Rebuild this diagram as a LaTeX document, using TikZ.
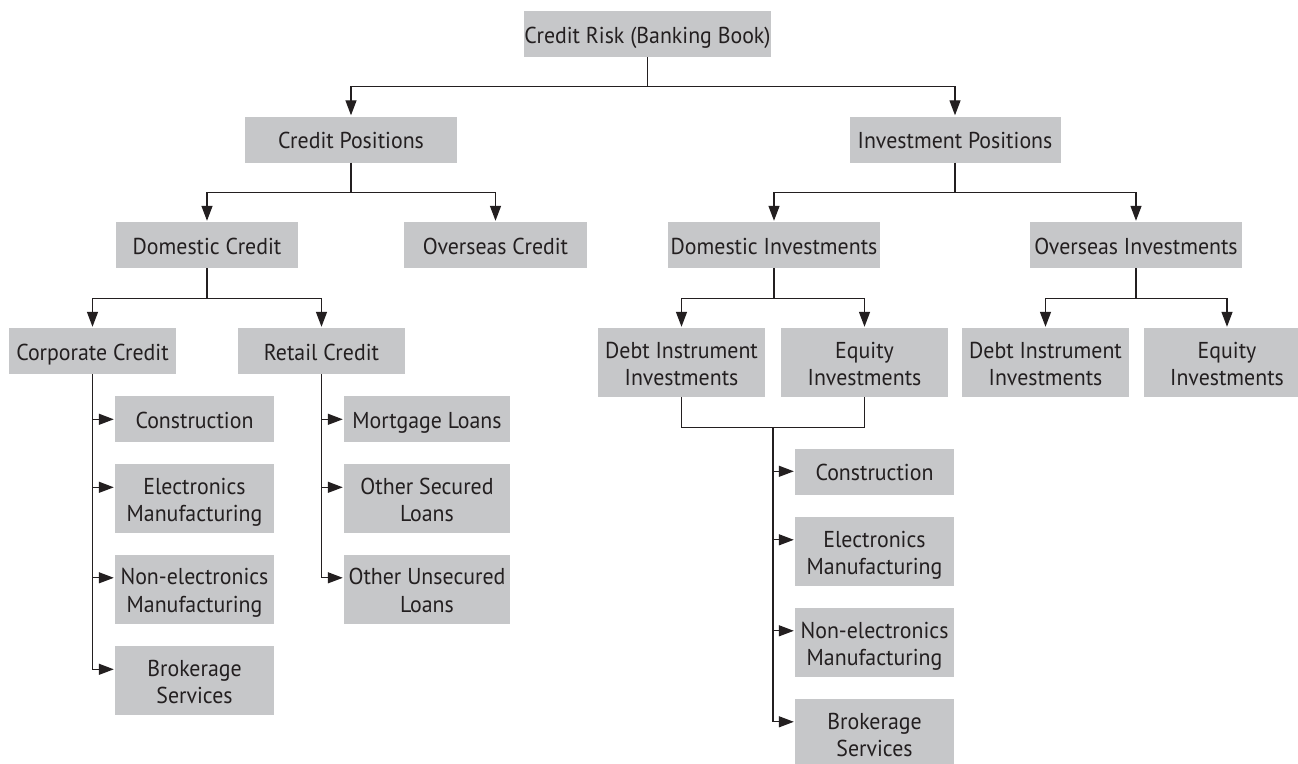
\documentclass[tikz,border=0pt]{standalone}
\usepackage{fontspec}
\setmainfont{PT Sans}[FakeStretch=0.95]
\usetikzlibrary{arrows.meta,calc}
\definecolor{boxgray}{HTML}{C6C7C9}
\definecolor{ink}{HTML}{231F20}
\newcommand\tlstrut{\rule{0pt}{24.5pt}}
\newcommand\blstrut{\rule[-6pt]{0pt}{6pt}}
\newcommand\twoline[2]{\tlstrut#1\\#2\blstrut}
\begin{document}
\begin{tikzpicture}[x=1pt,y=-1pt,
 box/.style={fill=boxgray, inner sep=0pt, align=center, text=ink, font=\fontsize{23}{27.5}\selectfont},
 one/.style={minimum height=46, text height=19, text depth=1},
 two/.style={minimum height=69},
 conn/.style={draw=ink, line width=1.3pt},
 arr/.style={conn, -{Triangle[length=15pt,width=11pt]}, shorten >=1pt}]
\clip (0,0) rectangle (1298,763);
\fill[white] (0,0) rectangle (1298,763);
% level 0-2
\node[box,one,minimum width=247] (root) at (647.5,34) {Credit Risk (Banking Book)};
\node[box,one,minimum width=212] (cp) at (351,139.5) {Credit Positions};
\node[box,one,minimum width=211] (ip) at (955,139.5) {Investment Positions};
\node[box,one,minimum width=182] (dc) at (207,245) {Domestic Credit};
\node[box,one,minimum width=183] (oc) at (495.5,245) {Overseas Credit};
\node[box,one,minimum width=212] (di) at (774,245) {Domestic Investments};
\node[box,one,minimum width=212] (oi) at (1136,245) {Overseas Investments};
% level 3
\node[box,one,minimum width=167] (corp) at (92.5,351) {Corporate Credit};
\node[box,one,minimum width=167] (ret) at (321.5,351) {Retail Credit};
\node[box,two,minimum width=167] (ddebt) at (681.5,362.5) {\twoline{Debt Instrument}{Investments}};
\node[box,two,minimum width=167] (deq) at (864.5,362.5) {\twoline{Equity}{Investments}};
\node[box,two,minimum width=167] (odebt) at (1045.5,362.5) {\twoline{Debt Instrument}{Investments}};
\node[box,two,minimum width=167] (oeq) at (1227,362.5) {\twoline{Equity}{Investments}};
% corporate leaves
\node[box,one,minimum width=159] (ccon) at (194.5,419) {Construction};
\node[box,two,minimum width=159] (celec) at (194.5,498.5) {\twoline{Electronics}{Manufacturing}};
\node[box,two,minimum width=159] (cnon) at (194.5,589) {\twoline{Non-electronics}{Manufacturing}};
\node[box,two,minimum width=159] (cbrok) at (194.5,680.5) {\twoline{Brokerage}{Services}};
% retail leaves
\node[box,one,minimum width=166] (rmort) at (427,419) {Mortgage Loans};
\node[box,two,minimum width=166] (rsec) at (427,498.5) {\twoline{Other Secured}{Loans}};
\node[box,two,minimum width=166] (runs) at (427,589) {\twoline{Other Unsecured}{Loans}};
% investment leaves
\node[box,one,minimum width=159] (icon) at (874.5,471.5) {Construction};
\node[box,two,minimum width=159] (ielec) at (874.5,551.5) {\twoline{Electronics}{Manufacturing}};
\node[box,two,minimum width=159] (inon) at (874.5,642.5) {\twoline{Non-electronics}{Manufacturing}};
\node[box,two,minimum width=159] (ibrok) at (874.5,733.5) {\twoline{Brokerage}{Services}};
% connectors
\draw[conn] (root.south) -- ++(0,29) coordinate (j0);
\draw[arr] (j0) -| (cp.north);
\draw[arr] (j0) -| (ip.north);
\draw[conn] (cp.south) -- ++(0,30) coordinate (j1);
\draw[arr] (j1) -| (dc.north);
\draw[arr] (j1) -| (oc.north);
\draw[conn] (ip.south) -- ++(0,30) coordinate (j2);
\draw[arr] (j2) -| (di.north);
\draw[arr] (j2) -| (oi.north);
\draw[conn] (dc.south) -- ++(0,30) coordinate (j3);
\draw[arr] (j3) -| (corp.north);
\draw[arr] (j3) -| (ret.north);
\draw[conn] (di.south) -- ++(0,30) coordinate (j4);
\draw[arr] (j4) -| (ddebt.north);
\draw[arr] (j4) -| (deq.north);
\draw[conn] (oi.south) -- ++(0,30) coordinate (j5);
\draw[arr] (j5) -| (odebt.north);
\draw[arr] (j5) -| (oeq.north);
% corporate
\foreach \n in {ccon,celec,cnon,cbrok}
  \draw[arr] (corp.south) |- ($(\n.north west)+(0,23.5)$);
\foreach \n in {rmort,rsec,runs}
  \draw[arr] (ret.south) |- ($(\n.north west)+(0,23.5)$);
% investments bracket
\draw[conn] (ddebt.south) -- ++(0,30) -| (deq.south);
\coordinate (j6) at ($(ddebt.south)!0.5!(deq.south)+(0,30)$);
\foreach \n in {icon,ielec,inon,ibrok}
  \draw[arr] (j6) |- ($(\n.north west)+(0,23)$);
\end{tikzpicture}
\end{document}
